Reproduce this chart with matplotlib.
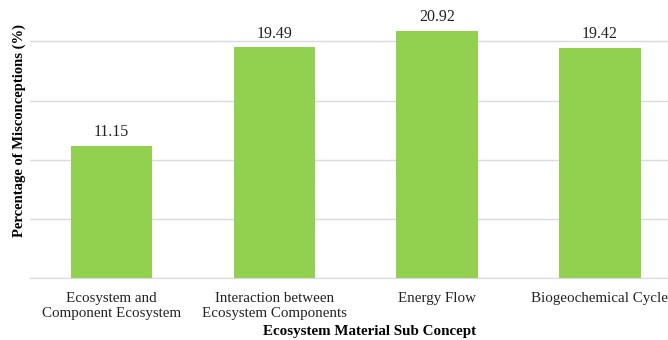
import matplotlib.pyplot as plt

plt.rcParams['font.family'] = ['Liberation Serif', 'DejaVu Serif']

# sub concepts and misconception percentages
categories = ['Ecosystem and\nComponent Ecosystem',
              'Interaction between\nEcosystem Components',
              'Energy Flow',
              'Biogeochemical Cycle']
percentages = [11.15, 19.49, 20.92, 19.42]

fig = plt.figure(figsize=(6.68, 3.4), dpi=100)
ax = fig.add_axes([0.045, 0.182, 0.975, 0.818])

x = range(len(categories))
bars = ax.bar(x, percentages, width=0.5, color='#92d050', zorder=3)
for b, v in zip(bars, percentages):
    ax.text(b.get_x() + b.get_width() / 2, v + 0.5, f'{v:.2f}',
            ha='center', va='bottom', fontsize=11.5, color='#222222')

ax.set_xlim(-0.5, len(categories) - 0.5)
ax.set_ylim(0, 23.5)
ax.set_yticks([0, 5, 10, 15, 20])
ax.set_yticklabels([])
ax.yaxis.grid(True, color='#d9dae3', linewidth=1, zorder=0)
ax.tick_params(axis='both', length=0)
ax.set_xticks(list(x))
ax.set_xticklabels(categories, fontsize=10.8, color='#222222', linespacing=1.2)
ax.tick_params(axis='x', pad=10)

for side in ['top', 'right', 'left']:
    ax.spines[side].set_visible(False)
ax.spines['bottom'].set_color('#d9dae3')

ax.set_ylabel('Percentage of Misconceptions (%)', fontsize=10.5,
              fontweight='bold')
ax.yaxis.set_label_coords(-0.006, 0.53)
ax.set_xlabel('Ecosystem Material Sub Concept', fontsize=10.8,
              fontweight='bold')
ax.xaxis.set_label_coords(0.522, -0.168)

fig.savefig('out.png', dpi=100)
